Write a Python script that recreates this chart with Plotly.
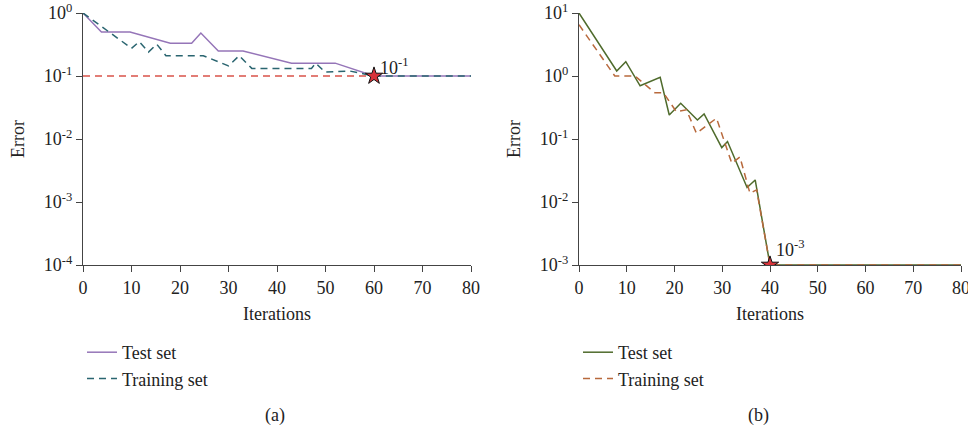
import plotly.graph_objects as go

# ---------------- data: panel (a) ----------------
a_test_x = [0, 3.8, 9.7, 18, 22.4, 24.3, 27.9, 33, 43, 52, 60, 80]
a_test_y = [1.0, 0.5, 0.5, 0.33, 0.33, 0.48, 0.25, 0.25, 0.16, 0.16, 0.1, 0.1]
a_train_x = [0, 10, 11.6, 13.5, 15.2, 17.1, 24.8, 30, 32.2, 34.8, 47.1, 48, 49.9, 55, 60, 80]
a_train_y = [1.0, 0.275, 0.35, 0.24, 0.32, 0.21, 0.21, 0.145, 0.21, 0.132, 0.132, 0.16, 0.115, 0.12, 0.1, 0.1]
a_target_x = [0, 60]
a_target_y = [0.1, 0.1]
a_star_x = [60]
a_star_y = [0.1]
a_star_label = "10<sup>-1</sup>"

# ---------------- data: panel (b) ----------------
b_test_x = [0, 7.9, 9.8, 12.8, 17, 18.9, 21.3, 24.8, 26.2, 29.9, 31.1, 35.2, 36.9, 40, 80]
b_test_y = [10, 1.2, 1.69, 0.70, 0.95, 0.24, 0.37, 0.20, 0.25, 0.073, 0.091, 0.017, 0.0224, 0.001, 0.001]
b_train_x = [0, 7.5, 11.7, 15.9, 17.7, 20.4, 22.5, 24.6, 28.8, 32, 33.7, 35.8, 37.2, 40, 80]
b_train_y = [6.5, 1.0, 1.0, 0.54, 0.54, 0.27, 0.29, 0.123, 0.214, 0.041, 0.052, 0.0138, 0.0156, 0.001, 0.001]
b_star_x = [40]
b_star_y = [0.001]
b_star_label = "10<sup>-3</sup>"

x_ticks = [0, 10, 20, 30, 40, 50, 60, 70, 80]
a_yticks = [1, 0.1, 0.01, 0.001, 0.0001]
a_ytext = ["10<sup>0</sup>", "10<sup>-1</sup>", "10<sup>-2</sup>", "10<sup>-3</sup>", "10<sup>-4</sup>"]
b_yticks = [10, 1, 0.1, 0.01, 0.001]
b_ytext = ["10<sup>1</sup>", "10<sup>0</sup>", "10<sup>-1</sup>", "10<sup>-2</sup>", "10<sup>-3</sup>"]
legend_names = ["Test set", "Training set"]
panel_labels = ["(a)", "(b)"]

FONT = "Liberation Serif"
FS = 18
TXT = "#222222"
AX = "#444444"
W, H = 968, 434

fig = go.Figure()

# panel a
fig.add_trace(go.Scatter(x=a_target_x, y=a_target_y, mode="lines", xaxis="x", yaxis="y",
                         line=dict(color="#d9534a", width=1.4, dash="7px,5px"), showlegend=False))
fig.add_trace(go.Scatter(x=a_test_x, y=a_test_y, mode="lines", xaxis="x", yaxis="y", name=legend_names[0],
                         line=dict(color="#9575b8", width=1.5), legend="legend"))
fig.add_trace(go.Scatter(x=a_train_x, y=a_train_y, mode="lines", xaxis="x", yaxis="y", name=legend_names[1],
                         line=dict(color="#2a6570", width=1.5, dash="7px,5px"), legend="legend"))
fig.add_trace(go.Scatter(x=a_star_x, y=a_star_y, mode="markers", xaxis="x", yaxis="y", showlegend=False,
                         marker=dict(symbol="star", size=13, color="#d8343a", line=dict(color="#111111", width=1))))

# panel b
fig.add_trace(go.Scatter(x=b_test_x, y=b_test_y, mode="lines", xaxis="x2", yaxis="y2", name=legend_names[0],
                         line=dict(color="#4f6b2c", width=1.5), legend="legend2"))
fig.add_trace(go.Scatter(x=b_train_x, y=b_train_y, mode="lines", xaxis="x2", yaxis="y2", name=legend_names[1],
                         line=dict(color="#b8693c", width=1.5, dash="7px,5px"), legend="legend2"))
fig.add_trace(go.Scatter(x=b_star_x, y=b_star_y, mode="markers", xaxis="x2", yaxis="y2", showlegend=False,
                         marker=dict(symbol="star", size=13, color="#d8343a", line=dict(color="#111111", width=1))))

ydom = [1 - 265 / H, 1 - 13 / H]
axis_common = dict(showgrid=False, zeroline=False, showline=True, linecolor=AX, linewidth=1.3,
                   ticks="outside", ticklen=6, tickcolor=AX, tickwidth=1.3,
                   tickfont=dict(family=FONT, size=FS, color=TXT), automargin=False)
title_font = dict(family=FONT, size=FS, color=TXT)

fig.update_layout(
    width=W, height=H, margin=dict(l=0, r=0, t=0, b=0),
    plot_bgcolor="white", paper_bgcolor="white",
    font=dict(family=FONT, size=FS, color=TXT),
    xaxis=dict(domain=[83 / W, 471 / W], range=[0, 80], tickvals=x_ticks, anchor="y",
               title=dict(text="Iterations", font=title_font, standoff=10),
               **axis_common),
    yaxis=dict(domain=ydom, type="log", range=[-4, 0], tickvals=a_yticks, ticktext=a_ytext, anchor="x",
               title=dict(text="Error", font=title_font, standoff=14),
               **axis_common),
    xaxis2=dict(domain=[579 / W, 961 / W], range=[0, 80], tickvals=x_ticks, anchor="y2",
                ticklabeloverflow="allow",
                title=dict(text="Iterations", font=title_font, standoff=10),
                **axis_common),
    yaxis2=dict(domain=ydom, type="log", range=[-3, 1], tickvals=b_yticks, ticktext=b_ytext, anchor="x2",
                title=dict(text="Error", font=title_font, standoff=14),
                **axis_common),
    legend=dict(x=82 / W, y=1 - 334 / H, xanchor="left", yanchor="top", bgcolor="rgba(0,0,0,0)",
                font=dict(family=FONT, size=FS, color=TXT), tracegroupgap=0),
    legend2=dict(x=578 / W, y=1 - 334 / H, xanchor="left", yanchor="top", bgcolor="rgba(0,0,0,0)",
                 font=dict(family=FONT, size=FS, color=TXT), tracegroupgap=0),
    annotations=[
        dict(x=a_star_x[0], y=-1, xref="x", yref="y", text=a_star_label, showarrow=False,
             xanchor="left", yanchor="bottom", xshift=4, yshift=-4, font=dict(family=FONT, size=FS, color=TXT)),
        dict(x=b_star_x[0], y=-3, xref="x2", yref="y2", text=b_star_label, showarrow=False,
             xanchor="left", yanchor="bottom", xshift=4, yshift=3, font=dict(family=FONT, size=FS, color=TXT)),
        dict(x=275 / W, y=1 - 415 / H, xref="paper", yref="paper", text=panel_labels[0],
             showarrow=False, xanchor="center", yanchor="middle", font=dict(family=FONT, size=FS, color=TXT)),
        dict(x=758 / W, y=1 - 415 / H, xref="paper", yref="paper", text=panel_labels[1],
             showarrow=False, xanchor="center", yanchor="middle", font=dict(family=FONT, size=FS, color=TXT)),
    ],
)

fig.write_html("out.html")
